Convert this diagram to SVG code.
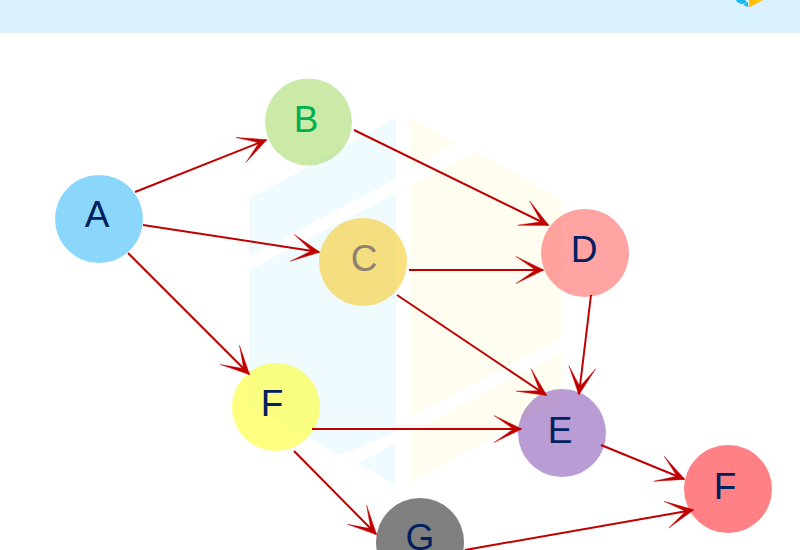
<svg xmlns="http://www.w3.org/2000/svg" width="800" height="550" viewBox="0 0 800 550">
  <style>
    .node { stroke: none; fill-opacity: 0.6; }
    .label { font-family: "Liberation Sans", Arial, sans-serif; font-size: 37px; text-anchor: middle; fill: #002060; }
    .edge { fill: none; stroke: #c00000; stroke-width: 2; marker-end: url(#head); }
    .mark-blue { fill: #effbff; }
    .mark-gold { fill: #fffdf0; }
  </style>
  <defs>
    <marker id="head" markerUnits="userSpaceOnUse" viewBox="-30 -16 32 32" refX="0" refY="0" markerWidth="32" markerHeight="32" orient="auto">
      <path d="M1,0 L-27,-13.5 L-9,-1 L-9,1 L-27,13.5 Z" fill="#c00000" stroke="#c00000" stroke-width="0.4"/>
    </marker>
  </defs>

  <rect id="banner" x="0" y="0" width="800" height="33" fill="#d9f2fc"/>
  <g id="banner-logo">
    <polygon points="736,0 745,0 747,3 741,4 737,2" fill="#19b5f5"/>
    <polygon points="743,5 748,2 748,7" fill="#19b5f5"/>
    <polygon points="749,0 763,0 750,7 749,7" fill="#ffc000"/>
  </g>

  <!-- Pale hexagon emblem behind the discs -->
  <g id="emblem">
    <polygon class="mark-blue" points="249,199 396,118 396,179 249,256"/>
    <polygon class="mark-blue" points="249,270 396,193 396,432 340,455 249,405"/>
    <polygon class="mark-blue" points="358,463 395,444 395,485"/>
    <polygon class="mark-gold" points="410,118 456,143 410,168"/>
    <polygon class="mark-gold" points="410,186 475,151 561,199 561,338 410,417"/>
    <polygon class="mark-gold" points="410,433 561,352 561,400 410,483"/>
  </g>

  <g id="node-a"><circle class="node" cx="99" cy="219" r="44" fill="#3dbdf8"/><text class="label" x="97" y="227">A</text></g>
  <g id="node-b"><circle class="node" cx="308.500" cy="122" r="43.500" fill="#a8dc6e"/><text class="label" x="306" y="132" style="fill:#00b050">B</text></g>
  <g id="node-c"><circle class="node" cx="363" cy="262" r="44" fill="#f9cb2b"/><text class="label" x="364" y="271" style="fill:#8f8272">C</text></g>
  <g id="node-d"><circle class="node" cx="585" cy="253" r="44" fill="#ff6666"/><text class="label" x="584" y="262">D</text></g>
  <g id="node-e"><circle class="node" cx="562" cy="433" r="44" fill="#8a5ab6"/><text class="label" x="560" y="443">E</text></g>
  <g id="node-f"><circle class="node" cx="276" cy="407" r="44" fill="#ffff2b"/><text class="label" x="272" y="416">F</text></g>
  <g id="node-f2"><circle class="node" cx="728" cy="489" r="44" fill="#ff2b33"/><text class="label" x="725" y="499">F</text></g>
  <g id="node-g"><circle class="node" cx="420" cy="542" r="44" fill="#2b2b2b"/><text class="label" x="420" y="550">G</text></g>

  <g id="connectors">
    <line class="edge" x1="135" y1="192" x2="266" y2="140"/>
    <line class="edge" x1="143" y1="225" x2="319" y2="252"/>
    <line class="edge" x1="128" y1="253" x2="249" y2="374"/>
    <line class="edge" x1="354" y1="130" x2="548" y2="225"/>
    <line class="edge" x1="409" y1="270" x2="543" y2="270"/>
    <line class="edge" x1="397" y1="295" x2="546" y2="395"/>
    <line class="edge" x1="591" y1="295" x2="579" y2="394"/>
    <line class="edge" x1="312" y1="429" x2="521" y2="429"/>
    <line class="edge" x1="294" y1="451" x2="376" y2="534"/>
    <line class="edge" x1="601" y1="445" x2="684" y2="479"/>
    <line class="edge" x1="465" y1="550" x2="693" y2="510"/>
  </g>
</svg>
